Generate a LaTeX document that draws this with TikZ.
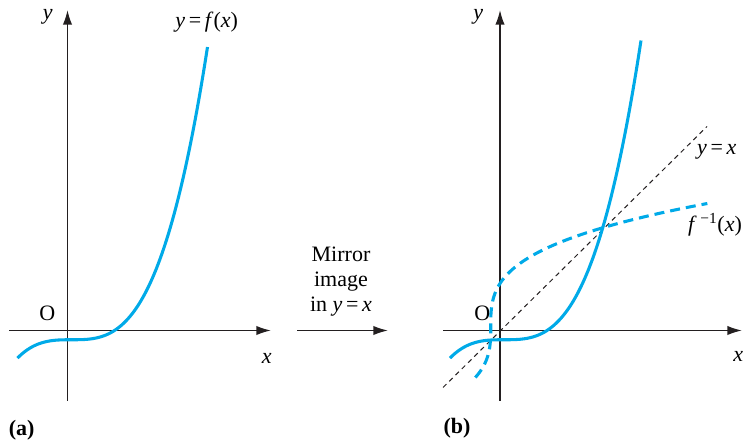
\documentclass[tikz,border=0pt]{standalone}
\usepackage{fontspec}
\setmainfont{Liberation Serif}
\usepackage{tikz}
\usetikzlibrary{arrows.meta,positioning}
\definecolor{curveblue}{RGB}{0,170,232}
\definecolor{axisblack}{RGB}{35,31,32}
\tikzset{
  axis/.style={axisblack,line width=1.1pt,-{Latex[length=11pt,width=7pt]}},
  fcurve/.style={curveblue,line width=2.3pt},
  invcurve/.style={curveblue,line width=2.3pt,dash pattern=on 7.5pt off 4.5pt},
  diag/.style={axisblack,line width=0.75pt,dash pattern=on 3.6pt off 3pt},
  lbl/.style={font=\fontsize{16.5}{18.75}\selectfont,inner sep=0pt}
}
% cubic used for both panels, argument in pixels
\def\fcub#1{(116.38*(((#1)-4)/100)^3-9.25)}

\begin{document}
\begin{tikzpicture}[x=0.75pt,y=-0.75pt]
  \useasboundingbox (0,0) rectangle (743,441);

  % axes of both panels
  \foreach \ox/\xl/\xr/\p in {67.5/9/271/a,500/443/742/b}{
    \draw[axis] (\xl,330.5) -- (\xr,330.5);
    \draw[axis] (\ox,401) -- (\ox,10);
  }

  % (a) the function
  \begin{scope}[shift={(67.5,330.5)}]
    \draw[fcurve] plot[domain=-50:140,samples=80,smooth] (\x,{-\fcub{\x}});
  \end{scope}
  \node[lbl] (ya) at (47.7,17) {\textit{y}};
  \node[lbl] (fa) at (206.7,21.7) {\textit{y}\,=\,\textit{f}(\textit{x})};
  \node[lbl] (oa) at (47.3,313.3) {O};
  \node[lbl] (xa) at (266.7,358) {\textit{x}};
  \node[lbl] (pa) at (21.7,430) {\textbf{(a)}};

  % mirror arrow
  \node[lbl,anchor=base] (m1) at (341,261.7) {Mirror};
  \node[lbl,anchor=base] (m2) at (341,286.7) {image};
  \node[lbl,anchor=base] (m3) at (341,311.7) {in \textit{y}\,=\,\textit{x}};
  \coordinate (ms) at (297,330.5);
  \coordinate (me) at (388,330.5);
  \draw[axis] (ms) -- (me);

  % (b) function, line y=x and inverse
  \begin{scope}[shift={(500,330.5)}]
    \draw[diag] (-57,57) -- (207,-204);
    \draw[fcurve] plot[domain=-50:141,samples=80,smooth] (\x,{-\fcub{\x}});
    \draw[invcurve] plot[domain=-47:127,samples=80,smooth] ({\fcub{\x}},-\x);
  \end{scope}
  \node[lbl] (yb) at (478.3,17) {\textit{y}};
  \node[lbl] (ob) at (482.3,313.3) {O};
  \node[lbl] (xb) at (738.3,356) {\textit{x}};
  \node[lbl] (pb) at (457,428) {\textbf{(b)}};
  \node[lbl] (lyx) at (716.7,151.7) {\textit{y}\,=\,\textit{x}};
  \node[lbl] (lfi) at (715,225) {\textit{f}\,\textsuperscript{−1}(\textit{x})};
\end{tikzpicture}
\end{document}
